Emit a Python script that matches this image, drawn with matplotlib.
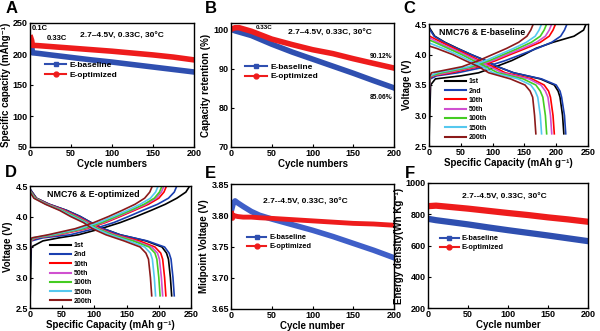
import numpy as np
import matplotlib
matplotlib.use('Agg')
import matplotlib.pyplot as plt
from matplotlib.lines import Line2D

plt.rcParams['font.family'] = ['Liberation Sans', 'DejaVu Sans']
plt.rcParams['font.weight'] = 'bold'
plt.rcParams['axes.labelweight'] = 'bold'
plt.rcParams['axes.linewidth'] = 1.0
plt.rcParams['xtick.direction'] = 'in'
plt.rcParams['ytick.direction'] = 'in'

# ---------------- data ----------------
# A: specific capacity vs cycle
cycles_a = [1, 2, 3, 10, 25, 50, 75, 100, 125, 150, 175, 200]
base_cap = [216, 214, 202, 201, 198.5, 194.5, 190.5, 187, 183, 179, 175, 171]
opt_cap = [226, 222, 214, 213.5, 212, 209.5, 207, 204.5, 201.5, 198.5, 195, 190.5]

# B: capacity retention
cycles_b = [0, 5, 10, 25, 50, 75, 100, 125, 150, 175, 200]
base_ret = [100, 99.6, 99.3, 98.4, 96.2, 94.2, 92.4, 90.6, 88.8, 86.9, 85.06]
opt_ret = [100, 100.4, 100.4, 99.5, 97.5, 96.1, 94.8, 93.8, 92.5, 91.3, 90.12]

# C/D: charge-discharge curves, capacity at shared voltage levels
cycle_names = ['1st', '2nd', '10th', '50th', '100th', '150th', '200th']
chg_v = [3.5, 3.6, 3.65, 3.7, 3.8, 3.9, 4.0, 4.1, 4.2, 4.3, 4.4, 4.5]
dis_v = [4.3, 4.2, 4.1, 4.0, 3.9, 3.8, 3.7, 3.6, 3.5, 3.4, 3.3, 3.0, 2.7]
nan = np.nan

c_chg_start = [2.55, 2.9, 3.1, 3.2, 3.3, 3.3, 3.3]
c_chg_cap = [
    [2.5, 10, 50, 78, 105, 130, 150, 168, 195, 228, 243, 247],
    [0.8, 2, 12, 45, 90, 120, 145, 170, 193, 207, 213, 217],
    [0.6, 1.5, 5, 35, 78, 105, 128, 152, 175, 189, 195, 199],
    [0.5, 1.2, 3, 28, 73, 100, 123, 147, 169, 183, 189, 193],
    [0.4, 1, 2.5, 20, 68, 95, 117, 140, 161, 175, 181, 185],
    [0.4, 0.9, 2, 12, 62, 89, 111, 133, 153, 167, 173, 177],
    [0.3, 0.8, 1.5, 4, 52, 78, 100, 122, 141, 154, 160, 164],
]
c_dis_start = [4.45, 4.43, 4.32, 4.28, 4.24, 4.19, 4.14]
c_dis_cap = [
    [9, 25, 45, 66, 89, 108, 133, 175, 197, 203, 206, 210, 212],
    [8, 24, 44, 66, 89, 108, 133, 177, 200, 206, 208.5, 213, 215],
    [1, 20, 40, 60, 80, 101, 120, 162, 181, 188, 191, 195, 197],
    [nan, 14, 35, 56, 76, 96, 115, 157, 176, 183, 187, 191, 193],
    [nan, 9, 30, 51, 70, 90, 108, 148, 168, 175, 179, 183, 185],
    [nan, nan, 22, 44, 64, 84, 101, 140, 160, 167, 171, 175, 177],
    [nan, nan, 12, 37, 57, 78, 94, 128, 151, 159, 163, 166, 168],
]

d_chg_start = [2.55, 2.9, 3.2, 3.3, 3.35, 3.4, 3.4]
d_chg_cap = [
    [2, 20, 45, 75, 110, 140, 165, 188, 210, 228, 242, 248],
    [0.8, 2, 20, 62, 100, 130, 153, 175, 198, 215, 224, 228],
    [0.5, 1.2, 10, 45, 88, 117, 140, 162, 184, 200, 208, 212],
    [0.4, 1, 8, 42, 85, 114, 137, 159, 180, 196, 204, 208],
    [0.3, 0.9, 6, 38, 82, 111, 134, 156, 177, 193, 201, 205],
    [0.3, 0.8, 4, 33, 77, 106, 129, 151, 171, 187, 195, 199],
    [0.2, 0.7, 3, 28, 70, 99, 122, 143, 163, 178, 186, 190],
]
d_dis_start = [4.45, 4.45, 4.43, 4.42, 4.42, 4.41, 4.4]
d_dis_cap = [
    [10, 30, 57, 78, 95, 114, 140, 180, 205, 212, 215, 218, 220],
    [10, 30, 57, 78, 95, 114, 140, 182, 209, 216, 219, 222, 224],
    [9, 28, 54, 74, 92, 109, 133, 170, 194, 203, 206, 209, 211],
    [8, 27, 52, 72, 90, 107, 131, 164, 189, 198, 201, 204, 206],
    [8, 26, 50, 70, 88, 105, 128, 160, 185, 194, 197, 200, 202],
    [7, 25, 48, 67, 86, 102, 124, 153, 178, 187, 190, 193, 195],
    [6, 24, 46, 63, 83, 97, 118, 146, 171, 180, 184, 187, 189],
]

# E: midpoint voltage
cycles_e = [1, 2, 3, 5, 8, 15, 25, 35, 50, 75, 100, 125, 150, 175, 200]
base_mid = [3.810, 3.815, 3.820, 3.823, 3.820, 3.814, 3.806, 3.800, 3.794,
            3.785, 3.776, 3.766, 3.755, 3.744, 3.732]
opt_mid = [3.803, 3.795, 3.800, 3.799, 3.798, 3.797, 3.797, 3.796, 3.795,
           3.793, 3.791, 3.789, 3.787, 3.786, 3.784]

# F: energy density
cycles_f = [1, 10, 25, 50, 75, 100, 125, 150, 175, 200]
base_ed = [770, 762, 752, 735, 716, 698, 681, 664, 646, 628]
opt_ed = [852, 855, 848, 836, 822, 808, 795, 780, 767, 752]

# ---------------- styling ----------------
BLUE = '#2f4fb0'
RED = '#ee1c1c'
curve_colors = ['black', '#1a3fb0', '#ff0000', '#d050d0', '#44cc22', '#55c8ee', '#8b1a1a']

fig = plt.figure(figsize=(6, 3.31), dpi=100)


def px_axes(l, t, r, b):
    return fig.add_axes([l / 600, 1 - b / 331, (r - l) / 600, (b - t) / 331])


def style(ax):
    ax.tick_params(labelsize=6.5, length=2.5, width=0.8, pad=1.5)
    for lab in ax.get_xticklabels() + ax.get_yticklabels():
        lab.set_fontweight('bold')


def two_legend(ax, x, y, fs):
    handles = [Line2D([], [], color=BLUE, lw=1.5, marker='s', ms=3.5),
               Line2D([], [], color=RED, lw=1.5, marker='o', ms=3.5)]
    ax.legend(handles, ['E-baseline', 'E-optimized'], loc='upper left',
              bbox_to_anchor=(x, y), frameon=False, fontsize=fs,
              handlelength=2.6, handletextpad=0.4, labelspacing=0.25,
              borderpad=0, borderaxespad=0)


def curve(start, grid, caps):
    caps = np.array(caps, float)
    grid = np.array(grid, float)
    ok = ~np.isnan(caps)
    return np.concatenate([[0], caps[ok]]), np.concatenate([[start], grid[ok]])


def cd_panel(ax, cs, cc, ds, dc, title, lx, ly):
    for i in range(len(cycle_names)):
        x, y = curve(cs[i], chg_v, cc[i])
        ax.plot(x, y, color=curve_colors[i], lw=1.2)
        x, y = curve(ds[i], dis_v, dc[i])
        ax.plot(x, y, color=curve_colors[i], lw=1.2)
    ax.set_xlim(0, 250)
    ax.set_ylim(2.5, 4.5)
    ax.set_xticks([0, 50, 100, 150, 200, 250])
    ax.set_yticks([2.5, 3.0, 3.5, 4.0, 4.5])
    ax.set_xlabel('Specific Capacity (mAh g⁻¹)', fontsize=7, labelpad=1)
    ax.set_ylabel('Voltage (V)', fontsize=7, labelpad=2)
    ax.text(title[1], title[2], title[0], transform=ax.transAxes, fontsize=6.4,
            va='center', fontweight='bold')
    handles = [Line2D([], [], color=c, lw=1.5) for c in curve_colors]
    ax.legend(handles, cycle_names, loc='upper left', bbox_to_anchor=(lx, ly),
              frameon=False, fontsize=5, handlelength=3.0, handletextpad=0.4,
              labelspacing=0.33, borderpad=0, borderaxespad=0)
    style(ax)


# ---------------- A ----------------
ax = px_axes(30, 23, 194, 147)
ax.plot(cycles_a, base_cap, color=BLUE, lw=4)
ax.plot(cycles_a, opt_cap, color=RED, lw=4)
ax.set_xlim(0, 200)
ax.set_ylim(50, 250)
ax.set_xticks([0, 50, 100, 150, 200])
ax.set_yticks([50, 100, 150, 200, 250])
ax.set_xlabel('Cycle numbers', fontsize=7, labelpad=1)
ax.set_ylabel('Specific capacity (mAhg⁻¹)', fontsize=7, labelpad=1)
ax.text(0.012, 0.955, '0.1C', transform=ax.transAxes, fontsize=5.5, va='center')
ax.text(0.1, 0.875, '0.33C', transform=ax.transAxes, fontsize=5.5, va='center')
ax.text(0.305, 0.89, '2.7–4.5V, 0.33C, 30°C', transform=ax.transAxes, fontsize=6, va='center')
two_legend(ax, 0.09, 0.69, 6)
style(ax)

# ---------------- B ----------------
ax = px_axes(231, 23, 394, 147)
ax.plot(cycles_b, base_ret, color=BLUE, lw=4)
ax.plot(cycles_b, opt_ret, color=RED, lw=4)
ax.set_xlim(0, 200)
ax.set_ylim(70, 101.6)
ax.set_xticks([0, 50, 100, 150, 200])
ax.set_yticks([70, 80, 90, 100])
ax.set_xlabel('Cycle numbers', fontsize=7, labelpad=1)
ax.set_ylabel('Capacity retention (%)', fontsize=7, labelpad=2)
ax.text(0.153, 0.965, '0.33C', transform=ax.transAxes, fontsize=4.5, va='center')
ax.text(0.35, 0.915, '2.7–4.5V, 0.33C, 30°C', transform=ax.transAxes, fontsize=6, va='center')
ax.text(0.99, 0.726, '90.12%', transform=ax.transAxes, fontsize=4.8, va='center', ha='right')
ax.text(0.99, 0.403, '85.06%', transform=ax.transAxes, fontsize=4.8, va='center', ha='right')
two_legend(ax, 0.086, 0.68, 6)
style(ax)

# ---------------- C ----------------
ax = px_axes(429, 24, 588, 146)
cd_panel(ax, c_chg_start, c_chg_cap, c_dis_start, c_dis_cap,
         ('NMC76 & E-baseline', 0.06, 0.934), 0.1, 0.555)

# ---------------- D ----------------
ax = px_axes(30, 186, 191, 308)
cd_panel(ax, d_chg_start, d_chg_cap, d_dis_start, d_dis_cap,
         ('NMC76 & E-optimized', 0.104, 0.934), 0.125, 0.54)

# ---------------- E ----------------
ax = px_axes(231, 184, 394, 309)
ax.plot(cycles_e, base_mid, color='#3f5fc8', lw=4)
ax.plot(cycles_e, opt_mid, color=RED, lw=3.5)
ax.set_xlim(0, 200)
ax.set_ylim(3.65, 3.85)
ax.set_xticks([0, 50, 100, 150, 200])
ax.set_yticks([3.65, 3.70, 3.75, 3.80, 3.85])
ax.yaxis.set_major_formatter(matplotlib.ticker.FormatStrFormatter('%.2f'))
ax.set_xlabel('Cycle number', fontsize=7, labelpad=1)
ax.set_ylabel('Midpoint Voltage (V)', fontsize=7, labelpad=2)
ax.text(0.196, 0.856, '2.7--4.5V, 0.33C, 30°C', transform=ax.transAxes, fontsize=6, va='center')
two_legend(ax, 0.1, 0.6, 5.3)
style(ax)

# ---------------- F ----------------
ax = px_axes(428, 183, 588, 308)
ax.plot(cycles_f, base_ed, color=BLUE, lw=4.5)
ax.plot(cycles_f, opt_ed, color=RED, lw=4.5)
ax.set_xlim(0, 200)
ax.set_ylim(200, 1000)
ax.set_xticks([0, 50, 100, 150, 200])
ax.set_yticks([200, 400, 600, 800, 1000])
ax.set_xlabel('Cycle number', fontsize=7, labelpad=1)
ax.set_ylabel('Energy density(Wh Kg⁻¹)', fontsize=7, labelpad=1)
ax.text(0.212, 0.888, '2.7--4.5V, 0.33C, 30°C', transform=ax.transAxes, fontsize=6, va='center')
two_legend(ax, 0.073, 0.584, 5.3)
style(ax)

# panel letters
for letter, x, y in [('A', 0.01, 0.973), ('B', 0.342, 0.973), ('C', 0.672, 0.973),
                     ('D', 0.008, 0.48), ('E', 0.342, 0.477), ('F', 0.675, 0.477)]:
    fig.text(x, y, letter, fontsize=12, fontweight='bold', va='center')

fig.savefig('out.png', dpi=100)
